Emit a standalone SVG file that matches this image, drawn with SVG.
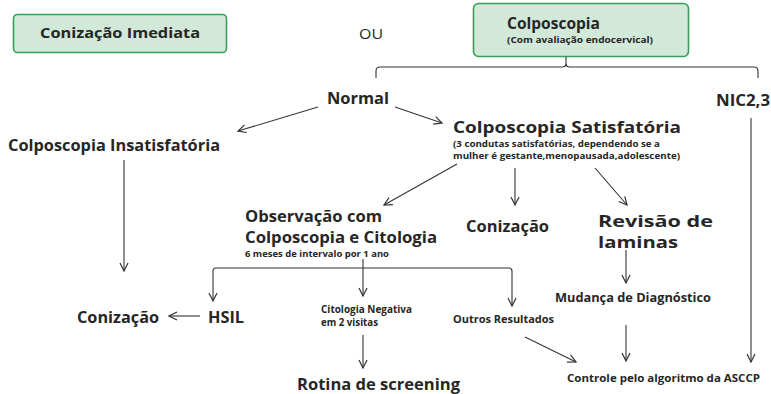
<svg xmlns="http://www.w3.org/2000/svg" width="771" height="394" viewBox="0 0 771 394">
<defs>
<marker id="ah" viewBox="0 0 10 10" refX="9" refY="5" markerWidth="10" markerHeight="10" markerUnits="userSpaceOnUse" orient="auto">
<path d="M1,1 L9,5 L1,9" fill="none" stroke="#333" stroke-width="1.2"/>
</marker>
<style>
text{font-family:"Open Sans","Noto Sans",sans-serif;font-weight:bold;fill:#262626}
.big{font-size:16px}
.sm{font-size:9px}
.md{font-size:10px}
.box{fill:#d2e8d8;stroke:#35a057;stroke-width:1.6}
.c line,.c path{stroke:#333;stroke-width:1.1;fill:none}
.arr{marker-end:url(#ah)}
</style>
</defs>
<rect width="771" height="394" fill="#fff"/>
<g id="conizacao-imediata">
<rect class="box" x="13.5" y="14.5" width="213" height="38" rx="4"/>
<text class="big" x="40" y="38" textLength="160" lengthAdjust="spacingAndGlyphs" style="font-size:15px">Conização Imediata</text>
</g>
<g id="ou"><text x="359" y="39" textLength="24" lengthAdjust="spacingAndGlyphs" style="font-weight:normal;font-size:15px">OU</text></g>
<g id="colposcopia">
<rect class="box" x="473.5" y="3.5" width="215" height="53" rx="5"/>
<text class="big" x="507" y="29" textLength="93" lengthAdjust="spacingAndGlyphs">Colposcopia</text>
<text class="sm" x="507" y="43" textLength="146" lengthAdjust="spacingAndGlyphs" style="font-size:8.5px">(Com avaliação endocervical)</text>
</g>
<g id="normal"><text class="big" x="327" y="104" textLength="62" lengthAdjust="spacingAndGlyphs">Normal</text></g>
<g id="nic"><text class="big" x="716" y="106" textLength="54" lengthAdjust="spacingAndGlyphs">NIC2,3</text></g>
<g id="colpo-insat"><text class="big" x="8" y="151" textLength="212" lengthAdjust="spacingAndGlyphs">Colposcopia Insatisfatória</text></g>
<g id="colpo-sat">
<text class="big" x="453" y="132.5" textLength="228" lengthAdjust="spacingAndGlyphs">Colposcopia Satisfatória</text>
<text class="sm" x="453" y="147" textLength="207" lengthAdjust="spacingAndGlyphs">(3 condutas satisfatórias, dependendo se a</text>
<text class="sm" x="453" y="159" textLength="227" lengthAdjust="spacingAndGlyphs">mulher é gestante,menopausada,adolescente)</text>
</g>
<g id="observacao">
<text class="big" x="245" y="222" textLength="137" lengthAdjust="spacingAndGlyphs">Observação com</text>
<text class="big" x="245" y="243" textLength="192" lengthAdjust="spacingAndGlyphs">Colposcopia e Citologia</text>
<text class="sm" x="245" y="256.5" textLength="144" lengthAdjust="spacingAndGlyphs">6 meses de intervalo por 1 ano</text>
</g>
<g id="conizacao-1"><text class="big" x="466" y="232" textLength="83" lengthAdjust="spacingAndGlyphs" style="font-size:16.5px">Conização</text></g>
<g id="revisao">
<text class="big" x="598" y="227" textLength="115" lengthAdjust="spacingAndGlyphs" style="font-size:16.5px">Revisão de</text>
<text class="big" x="598" y="248" textLength="80" lengthAdjust="spacingAndGlyphs" style="font-size:16.5px">laminas</text>
</g>
<g id="hsil"><text class="big" x="208" y="323" textLength="36" lengthAdjust="spacingAndGlyphs">HSIL</text></g>
<g id="conizacao-2"><text class="big" x="77" y="323" textLength="82" lengthAdjust="spacingAndGlyphs">Conização</text></g>
<g id="citologia-negativa">
<text class="md" x="321" y="313" textLength="91" lengthAdjust="spacingAndGlyphs">Citologia Negativa</text>
<text class="md" x="321" y="326" textLength="57" lengthAdjust="spacingAndGlyphs">em 2 visitas</text>
</g>
<g id="outros"><text class="md" x="453" y="323" textLength="101" lengthAdjust="spacingAndGlyphs">Outros Resultados</text></g>
<g id="mudanca"><text class="big" x="555" y="302" textLength="156" lengthAdjust="spacingAndGlyphs" style="font-size:13px">Mudança de Diagnóstico</text></g>
<g id="rotina"><text class="big" x="297" y="390" textLength="163" lengthAdjust="spacingAndGlyphs" style="font-size:16.5px">Rotina de screening</text></g>
<g id="controle"><text class="md" x="567" y="382" textLength="193" lengthAdjust="spacingAndGlyphs">Controle  pelo algoritmo da ASCCP</text></g>
<g id="connectors" class="c">
<path d="M566,57 V64 Q566,67 562,67 H380 Q376,67 376,71 V78"/>
<path d="M566,64 Q566,67 570,67 H754 Q758,67 758,71 V78"/>
<line class="arr" x1="318" y1="107" x2="238" y2="131"/>
<line class="arr" x1="395" y1="107" x2="442" y2="123"/>
<line class="arr" x1="751" y1="118" x2="751" y2="362"/>
<line class="arr" x1="124" y1="160" x2="124" y2="271"/>
<line class="arr" x1="457" y1="164" x2="384" y2="205"/>
<line class="arr" x1="515" y1="168" x2="515" y2="205"/>
<line class="arr" x1="595" y1="168" x2="627" y2="205"/>
<line x1="363" y1="259" x2="363" y2="268"/>
<path class="arr" d="M363,268 H216 Q213,268 213,271 V301"/>
<path class="arr" d="M363,268 H509 Q512,268 512,271 V306"/>
<line class="arr" x1="363" y1="268" x2="363" y2="296"/>
<line class="arr" x1="200" y1="316" x2="169" y2="316"/>
<line class="arr" x1="363" y1="335" x2="363" y2="368"/>
<line class="arr" x1="525" y1="337" x2="576" y2="362"/>
<line class="arr" x1="626" y1="250" x2="626" y2="283"/>
<line class="arr" x1="626" y1="325" x2="626" y2="361"/>
</g>
</svg>
